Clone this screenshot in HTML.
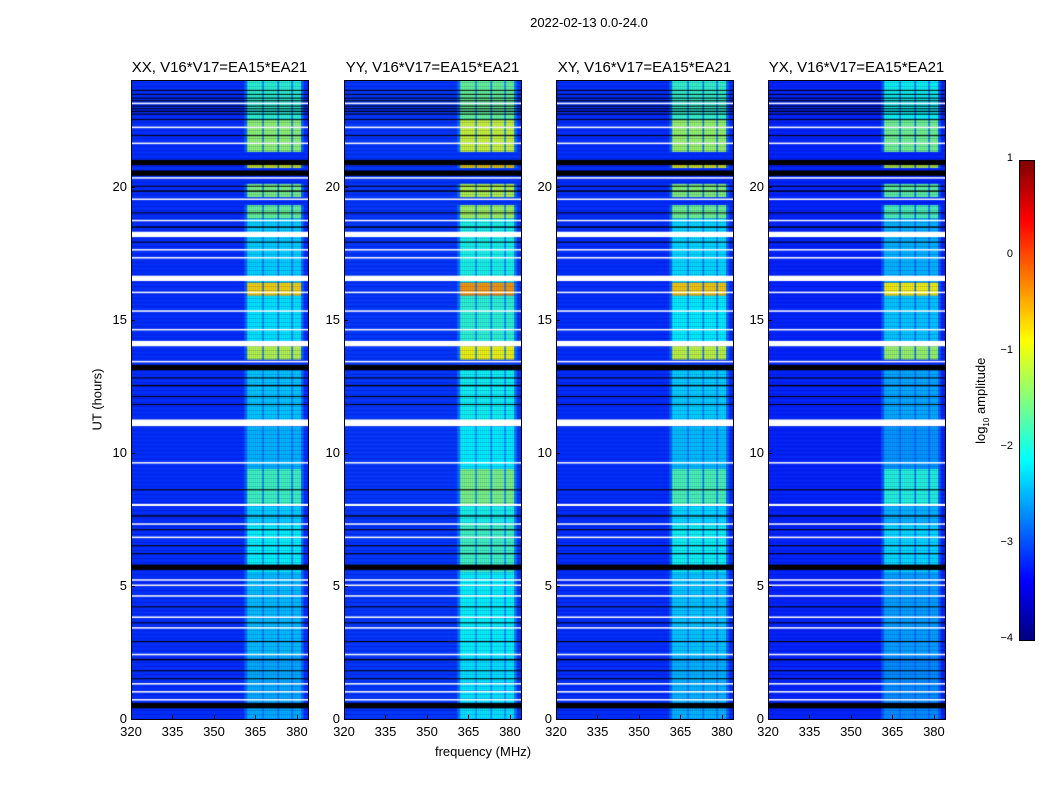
<!DOCTYPE html>
<html><head><meta charset="utf-8">
<style>
body{margin:0;background:#fff;font-family:"Liberation Sans",sans-serif;}
#root{position:relative;width:1050px;height:800px;overflow:hidden;background:#fff;}
.t{position:absolute;font-size:13px;color:#000;white-space:nowrap;}
canvas{position:absolute;}
.frame{position:absolute;border:1px solid #000;box-sizing:border-box;}
</style></head><body>
<div id="root">
<div class="t" style="left:489px;top:15px;width:200px;text-align:center;">2022-02-13 0.0-24.0</div>
<div class="t" style="left:383px;top:744px;width:200px;text-align:center;">frequency (MHz)</div>
<div class="t" style="left:47px;top:392px;width:100px;text-align:center;transform:rotate(-90deg);">UT (hours)</div>
<div class="t" style="left:922px;top:392px;width:120px;text-align:center;transform:rotate(-90deg);">log<sub style="font-size:8px">10</sub> amplitude</div>
<canvas id="cb" width="15" height="480" style="left:1019px;top:160px;"></canvas>
<div class="frame" style="left:1019px;top:160px;width:16px;height:481px;"></div>
</div>
<script>
const panelTitles=["XX, V16*V17=EA15*EA21","YY, V16*V17=EA15*EA21","XY, V16*V17=EA15*EA21","YX, V16*V17=EA15*EA21"];
const panelLefts=[131,344,556,768];
const freqTicks=[320,335,350,365,380];
const hourTicks=[0,5,10,15,20];
const cbTicks=[1,0,-1,-2,-3,-4];
const bgLevel=[-3.15,-3.1,-3.15,-3.2];
const panelBoost=[0,0.3,0.05,-0.15];
// [start hour, end hour, RFI band level]
const bandSegments=[[0,2.4,-2.5],[2.4,5.5,-2.4],[5.5,7.3,-2.1],[7.3,8.0,-2.3],[8.0,9.4,-1.8],[9.4,11.0,-2.45],[11.0,13.3,-2.35],[13.5,14.1,-1.2],[14.1,15.9,-2.2],[15.9,16.4,-0.7],[16.4,18.8,-2.3],[18.8,19.3,-1.6],[19.6,20.1,-1.5],[20.7,20.9,-1.0],[21.3,22.5,-1.4],[22.5,24,-1.9]];
const whiteRows=[[0.7,0.75],[1.0,1.05],[1.3,1.35],[2.4,2.45],[3.4,3.45],[3.8,3.85],[4.6,4.65],[5.0,5.05],[5.2,5.25],[6.8,6.85],[7.3,7.35],[8.0,8.08],[9.6,9.65],[11.0,11.25],[13.4,13.45],[14.0,14.2],[14.6,14.65],[15.3,15.35],[16.0,16.05],[16.45,16.65],[17.3,17.35],[17.6,17.65],[18.1,18.3],[18.7,18.75],[19.5,19.55],[20.3,20.35],[21.6,21.65],[22.2,22.25],[23.1,23.15]];
const blackRows=[[0.4,0.6],[1.5,1.53],[1.8,1.83],[2.2,2.25],[2.9,2.93],[3.6,3.63],[4.2,4.23],[5.6,5.8],[6.2,6.23],[6.5,6.53],[7.1,7.13],[7.6,7.65],[8.6,8.63],[11.8,11.83],[12.1,12.13],[12.5,12.55],[12.8,12.83],[13.1,13.3],[17.9,17.93],[18.45,18.5],[19.0,19.03],[19.8,19.85],[20.0,20.03],[20.4,20.6],[20.8,21.0],[21.9,21.93],[22.5,22.53],[22.7,22.74],[22.8,22.84],[22.9,22.94],[23.0,23.04],[23.2,23.24],[23.3,23.34],[23.45,23.48],[23.6,23.63]];
const subBlocks=[[362,367.5],[368,373],[373.5,378],[378.5,381.5]];
const fmin=320,fmax=384,hmin=0,hmax=24;
const PW=177,PH=639,PT=80;
function xs(f){return (f-fmin)/(fmax-fmin)*PW;}
function ys(h){return PH-(h-hmin)/(hmax-hmin)*PH;}
function jet(v){let t=Math.max(0,Math.min(1,(v+4)/5));
 const r=Math.max(0,Math.min(1,1.5-Math.abs(4*t-3))),g=Math.max(0,Math.min(1,1.5-Math.abs(4*t-2))),b=Math.max(0,Math.min(1,1.5-Math.abs(4*t-1)));
 return `rgb(${Math.round(r*255)},${Math.round(g*255)},${Math.round(b*255)})`;}
const root=document.getElementById('root');
panelLefts.forEach((L,p)=>{
 const c=document.createElement('canvas');c.width=PW;c.height=PH;c.style.left=L+'px';c.style.top=PT+'px';
 
 
 root.appendChild(c);const g=c.getContext('2d');
 g.fillStyle=jet(bgLevel[p]);g.fillRect(0,0,PW,PH);
 bandSegments.forEach(s=>{const y0=ys(s[1]),y1=ys(s[0]);
  g.fillStyle=jet(-2.85+panelBoost[p]*0.3);g.fillRect(xs(361),y0,xs(382.5)-xs(361),y1-y0);
  subBlocks.forEach(b=>{g.fillStyle=jet(s[2]+panelBoost[p]);g.fillRect(xs(b[0]),y0,xs(b[1])-xs(b[0]),y1-y0);});
 });
 for(let y=0;y<PH;y+=2){g.fillStyle=(y%4?'rgba(0,0,140,0.22)':'rgba(30,90,255,0.12)');g.fillRect(0,y,PW,1);}
 for(let x=0;x<PW;x+=2){g.fillStyle='rgba(0,0,120,0.10)';g.fillRect(x,0,1,PH);}
 blackRows.forEach(r=>{g.fillStyle='#000';g.fillRect(0,ys(r[1]),PW,Math.max(1,ys(r[0])-ys(r[1])));});
 whiteRows.forEach(r=>{g.fillStyle='#fff';g.fillRect(0,ys(r[1]),PW,Math.max(1.5,ys(r[0])-ys(r[1])));});
 const fr=document.createElement('div');fr.className='frame';
 
 
 fr.style.cssText=`left:${L}px;top:${PT}px;width:${PW+1}px;height:${PH+1}px;`;root.appendChild(fr);
 const tt=document.createElement('div');tt.className='t';tt.textContent=panelTitles[p];
 
 
 tt.style.cssText=`left:${L-40}px;top:59px;width:${PW+80}px;text-align:center;font-size:15px;`;root.appendChild(tt);
 freqTicks.forEach(f=>{const d=document.createElement('div');d.className='t';d.textContent=f;
  
  
  d.style.cssText=`left:${L+xs(f)-20}px;top:724px;width:40px;text-align:center;`;root.appendChild(d);
  const k=document.createElement('div');k.style.cssText=`position:absolute;left:${L+xs(f)}px;top:${PT+PH-4}px;width:1px;height:4px;background:#000`;root.appendChild(k);});
 hourTicks.forEach(h=>{const d=document.createElement('div');d.className='t';d.textContent=h;
  
  
  d.style.cssText=`left:${L-44}px;top:${PT+ys(h)-8}px;width:40px;text-align:right;`;root.appendChild(d);
  const k=document.createElement('div');k.style.cssText=`position:absolute;left:${L}px;top:${PT+ys(h)}px;width:4px;height:1px;background:#000`;root.appendChild(k);});
});
const cb=document.getElementById('cb').getContext('2d');
for(let y=0;y<480;y++){cb.fillStyle=jet(1-y/480*5);cb.fillRect(0,y,15,1);}
cbTicks.forEach(v=>{const y=160+(1-v)/5*480;const d=document.createElement('div');d.className='t';d.textContent=(v<0?'\u2212'+(-v):v);
 
 
 d.style.cssText=`left:${973}px;top:${y-8}px;width:40px;text-align:right;font-size:11px;`;root.appendChild(d);});
</script>
</body></html>
